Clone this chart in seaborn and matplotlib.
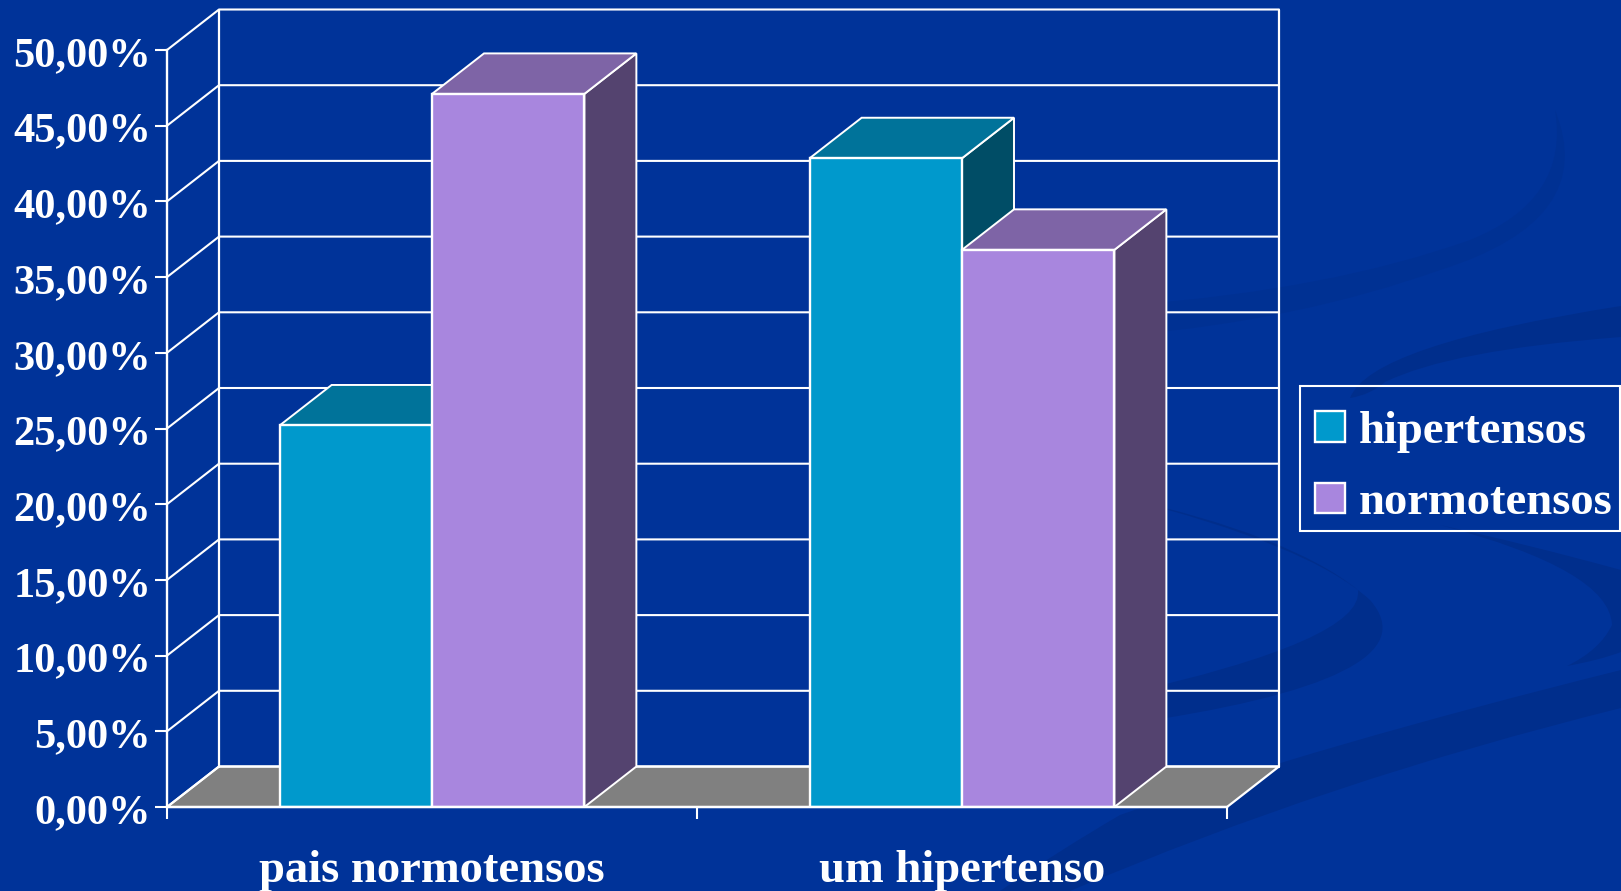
import pandas as pd
import matplotlib
matplotlib.use('Agg')
import matplotlib.pyplot as plt
from matplotlib.patches import PathPatch, Polygon, Rectangle
from matplotlib.path import Path
from matplotlib.transforms import ScaledTranslation
import seaborn as sns

categorias = ['pais normotensos', 'um hipertenso']
hipertensos = [25.2, 42.85]
normotensos = [47.1, 36.8]
series = ['hipertensos', 'normotensos']
y_ticks = [0, 5, 10, 15, 20, 25, 30, 35, 40, 45, 50]
y_labels = ['0,00%', '5,00%', '10,00%', '15,00%', '20,00%', '25,00%',
            '30,00%', '35,00%', '40,00%', '45,00%', '50,00%']

BG = '#003399'
SWOOSH = '#002E8C'
SWOOSH_FAINT = '#003193'
WHITE = '#FFFFFF'
FLOOR = '#808080'
# front, top, side of each series
COLORS = {'hipertensos': ('#0099CC', '#00739A', '#004D66'),
          'normotensos': ('#A886DE', '#7E64A6', '#54436F')}

df = pd.DataFrame({
    'grupo': categorias * 2,
    'serie': [series[0]] * 2 + [series[1]] * 2,
    'valor': hipertensos + normotensos,
})

sns.set_theme(style='white')
plt.rcParams['font.family'] = ['Liberation Serif', 'DejaVu Serif']
plt.rcParams['font.weight'] = 'bold'

W, H = 1621, 891
fig = plt.figure(figsize=(W / 100, H / 100), dpi=100, facecolor=BG)

# background swooshes, slide decoration (pixel coordinates)
bg = fig.add_axes([0, 0, 1, 1], zorder=0)
bg.set_xlim(0, W)
bg.set_ylim(H, 0)
bg.axis('off')


def swoosh(points, color=SWOOSH):
    verts = [points[0]]
    codes = [Path.MOVETO]
    for p in points[1:]:
        verts.append(p)
        codes.append(Path.CURVE3)
    if (len(verts) - 1) % 2:
        verts.append(verts[-1])
        codes.append(Path.LINETO)
    bg.add_patch(PathPatch(Path(verts, codes), fc=color, ec='none'))


swoosh([(1130, 305), (1330, 290), (1470, 240), (1570, 200), (1555, 110),
        (1600, 220), (1440, 270), (1300, 320), (1130, 335)], SWOOSH_FAINT)
swoosh([(1350, 398), (1370, 345), (1621, 306), (1621, 320), (1621, 337),
        (1450, 350), (1385, 382), (1370, 395), (1350, 398)])
swoosh([(1120, 497), (1290, 535), (1358, 590), (1365, 640), (1120, 695),
        (1120, 710), (1120, 725), (1440, 680), (1370, 600),
        (1310, 545), (1120, 497)])
swoosh([(1440, 525), (1610, 570), (1612, 625), (1600, 650), (1567, 666),
        (1600, 660), (1621, 652), (1621, 610), (1621, 570), (1530, 545), (1440, 525)])
swoosh([(1621, 670), (1320, 745), (1120, 815), (1060, 850), (1000, 891),
        (1030, 891), (1070, 891), (1330, 780), (1621, 708), (1621, 690), (1621, 670)])

# legend box runs up to the edge of the slide
bg.add_patch(Rectangle((1300, 386), 320, 144.5, fc='none', ec=WHITE, lw=1.5))

# front plane of the chart
ax = fig.add_axes([167 / W, (H - 807) / H, 1060 / W, 757 / H], zorder=1)
ax.patch.set_alpha(0)

sns.barplot(data=df, x='grupo', y='valor', hue='serie', order=categorias,
            hue_order=series, palette={s: COLORS[s][0] for s in series},
            width=0.575, gap=0, saturation=1, edgecolor=WHITE, linewidth=1.7,
            ax=ax, zorder=5)

x0, x1 = -0.5, 1.5
ax.set_xlim(x0, x1)
ax.set_ylim(0, 50)
dx = 52 / 530
dy = 40.5 / 757 * 50

# floor and walls
ax.add_patch(Polygon([(x0, 0), (x1, 0), (x1 + dx, dy), (x0 + dx, dy)], closed=True,
                     fc=FLOOR, ec=WHITE, lw=1.6, clip_on=False, zorder=1))
for t in y_ticks:
    ax.plot([x0, x0 + dx, x1 + dx], [t, t + dy, t + dy], color=WHITE, lw=1.5,
            clip_on=False, zorder=2)
for xb in (x0 + dx, x1 + dx):
    ax.plot([xb, xb], [dy, 50 + dy], color=WHITE, lw=1.6, clip_on=False, zorder=2)

# 3D faces of the bars
n = 0
for cont, s in zip(ax.containers, series):
    front, top, side = COLORS[s]
    for bar in cont:
        xa = bar.get_x()
        xb = xa + bar.get_width()
        h = bar.get_height()
        order = 5 + n
        bar.set_zorder(order + 0.2)
        ax.add_patch(Polygon([(xb, 0), (xb + dx, dy), (xb + dx, h + dy), (xb, h)],
                             closed=True, fc=side, ec=WHITE, lw=1.4,
                             clip_on=False, zorder=order))
        ax.add_patch(Polygon([(xa, h), (xb, h), (xb + dx, h + dy), (xa + dx, h + dy)],
                             closed=True, fc=top, ec=WHITE, lw=1.4,
                             clip_on=False, zorder=order + 0.1))
        n += 1

for sp in ('top', 'right'):
    ax.spines[sp].set_visible(False)
for sp in ('left', 'bottom'):
    ax.spines[sp].set_color(WHITE)
    ax.spines[sp].set_linewidth(1.7)
    ax.spines[sp].set_zorder(20)

ax.set_xlabel('')
ax.set_ylabel('')
ax.set_yticks(y_ticks)
ax.set_yticklabels(y_labels)
ax.tick_params(axis='y', colors=WHITE, length=8.5, width=1.5, labelsize=30.5, pad=3, left=True)
ax.set_xticks([0, 1])
ax.set_xticklabels(categorias)
ax.set_xticks([x0, 0.5, x1], minor=True)
ax.tick_params(axis='x', which='major', colors=WHITE, length=0, labelsize=33.6, pad=31)
ax.tick_params(axis='x', which='minor', color=WHITE, length=8.5, width=1.5, bottom=True)

# the y labels sit a little below their ticks
shift = ScaledTranslation(0, -6 / 100, fig.dpi_scale_trans)
for lab in ax.get_yticklabels():
    lab.set_verticalalignment('center')
    lab.set_transform(lab.get_transform() + shift)

handles, labels = ax.get_legend_handles_labels()
leg = ax.legend(handles, labels, loc='upper left',
                bbox_to_anchor=(1315 / W, (H - 411) / H), bbox_transform=fig.transFigure,
                frameon=False, fontsize=33.6, labelcolor=WHITE,
                handlelength=0.64, handleheight=0.64, handletextpad=0.29,
                labelspacing=0.63, borderaxespad=0, borderpad=0)
leg.set_zorder(30)

fig.savefig('out.png', dpi=100, facecolor=BG)
